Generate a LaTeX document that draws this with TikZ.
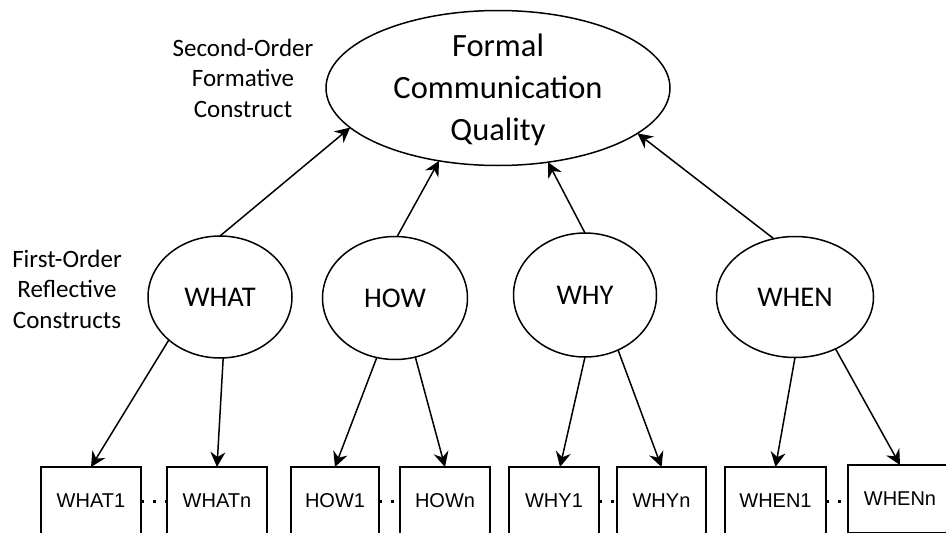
\documentclass[tikz,border=0pt]{standalone}
\usepackage{fontspec}
\setmainfont{Carlito}
\newfontfamily\arialf{Liberation Sans}
\usetikzlibrary{shapes.geometric,arrows.meta}
\begin{document}
\begin{tikzpicture}[x=1pt,y=-1pt,
  every node/.style={inner sep=0pt, outer sep=0pt},
  lat/.style={draw, ellipse, line width=1.5pt, font=\fontsize{28.5}{30}\selectfont},
  ind/.style={draw, rectangle, anchor=north, minimum height=68pt, line width=1.5pt, font=\arialf\fontsize{20}{22}\selectfont},
  arr/.style={line width=1.5pt, -{Stealth[length=15pt,width=15pt,inset=5pt]}},
  dots/.style={line width=3pt, dash pattern=on 3pt off 9pt},
  lbl/.style={align=center, font=\fontsize{25}{30.5}\selectfont}]
\useasboundingbox (0,0) rectangle (946,533);
\clip (0,0) rectangle (946,533);
% second-order construct
\node[draw, ellipse, line width=1.5pt, minimum width=344pt, minimum height=155pt] (main) at (498,88) {};
\node[align=center, font=\fontsize{32.5}{42}\selectfont] (maintext) at (498,90) {Formal\\Communication\\Quality};
% side labels
\node[lbl] (solabel) at (243,78) {Second-Order\\Formative\\Construct};
\node[lbl] (folabel) at (67,289) {First-Order\\Reflective\\Constructs};
% first-order constructs
\node[lat, minimum width=144pt, minimum height=122pt] (what) at (220,297) {WHAT};
\node[lat, minimum width=145pt, minimum height=123pt] (how) at (395,298) {HOW};
\node[lat, minimum width=143pt, minimum height=124pt] (why) at (585,295) {WHY};
\node[lat, minimum width=157pt, minimum height=121pt] (when) at (795,297) {WHEN};
% indicators
\node[ind, minimum width=100pt] (what1) at (91,467) {WHAT1};
\node[ind, minimum width=100pt] (whatn) at (217,467) {WHATn};
\node[ind, minimum width=88pt] (how1) at (335,467) {HOW1};
\node[ind, minimum width=90pt] (hown) at (445,467) {HOWn};
\node[ind, minimum width=90pt] (why1) at (554,467) {WHY1};
\node[ind, minimum width=89pt] (whyn) at (661.5,467) {WHYn};
\node[ind, minimum width=101pt] (when1) at (775.5,467) {WHEN1};
\node[ind, minimum width=104pt] (whenn) at (900,465) {WHENn};
% formative arrows
\draw[arr] (what.north) -- (main.195);
\draw[arr] (how.88) -- (main.231);
\draw[arr] (why.north) -- (main.304);
\draw[arr] (when.110) -- (main.342);
% reflective arrows
\draw[arr] (what.220) -- (what1.north);
\draw[arr] (what.273) -- (whatn.north);
\draw[arr] (how.253) -- (how1.north);
\draw[arr] (how.289) -- (hown.north);
\draw[arr] (why.south) -- ([xshift=6pt]why1.north);
\draw[arr] (why.301) -- (whyn.north);
\draw[arr] (when.south) -- (when1.north);
\draw[arr] (when.308) -- (whenn.north);
% dotted links
\draw[dots] (what1.east) -- (whatn.west);
\draw[dots] (how1.east) -- (hown.west);
\draw[dots] (why1.east) -- (whyn.west);
\draw[dots] (when1.east) -- ([yshift=-2pt]whenn.west);
\end{tikzpicture}
\end{document}
